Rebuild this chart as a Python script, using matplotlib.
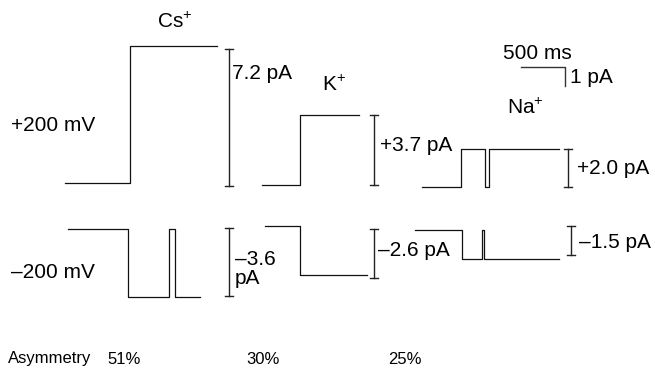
import numpy as np
import matplotlib
matplotlib.use("Agg")
import matplotlib.pyplot as plt
from matplotlib.transforms import Affine2D

plt.rcParams['font.family'] = ['Liberation Sans', 'DejaVu Sans']
plt.rcParams['mathtext.fontset'] = 'custom'
plt.rcParams['mathtext.rm'] = 'Liberation Sans'
plt.rcParams['mathtext.it'] = 'Liberation Sans:italic'

# single-channel traces: segment boundaries (ms) and current level per segment (pA)
cs_pos_t = [0, 739, 1727]
cs_pos_i = [0, 7.2]
cs_neg_t = [0, 682, 1148, 1216, 1500]
cs_neg_i = [0, -3.6, 0, -3.6]
k_pos_t = [0, 432, 1102]
k_pos_i = [0, 3.7]
k_neg_t = [0, 398, 1159]
k_neg_i = [0, -2.6]
na_pos_t = [0, 443, 716, 761, 1557]
na_pos_i = [0, 2.0, 0, 2.0]
na_neg_t = [0, 534, 761, 784, 1636]
na_neg_i = [0, -1.5, 0, -1.5]

ions = ['Cs$^{+}$', 'K$^{+}$', 'Na$^{+}$']
amp_pos = [7.2, 3.7, 2.0]
amp_neg = [3.6, 2.6, 1.5]
amp_pos_labels = ['7.2 pA', '+3.7 pA', '+2.0 pA']
amp_neg_labels = ['\u20133.6\npA', '\u20132.6 pA', '\u20131.5 pA']
asym = ['51%', '30%', '25%']

# scale of the recording in the figure
PX_PER_MS = 0.088
PX_PER_PA = 19.0

fig = plt.figure(figsize=(6.55, 3.74), dpi=100)
ax = fig.add_axes([0, 0, 1, 1])
ax.set_xlim(0, 655)
ax.set_ylim(374, 0)
ax.axis('off')


def trace(t, lev, x0, y0):
    tr = Affine2D().scale(PX_PER_MS, -PX_PER_PA).translate(x0, y0) + ax.transData
    x = np.repeat(t, 2)[1:-1]
    y = np.repeat(lev, 2)
    ax.plot(x, y, color='#111111', lw=0.9, transform=tr)


def bar(x, top, amp):
    bot = top + amp * PX_PER_PA
    ax.plot([x, x], [top, bot], color='#222222', lw=1.0)
    ax.plot([x - 4, x + 4], [top, top], color='#222222', lw=1.0)
    ax.plot([x - 4, x + 4], [bot, bot], color='#222222', lw=1.0)


trace(cs_pos_t, cs_pos_i, 65, 183)
trace(cs_neg_t, cs_neg_i, 68, 229)
trace(k_pos_t, k_pos_i, 262, 185)
trace(k_neg_t, k_neg_i, 265, 226)
trace(na_pos_t, na_pos_i, 422, 187)
trace(na_neg_t, na_neg_i, 415, 230)

bar_x = [229, 374, 568]
bar_x_neg = [229, 374, 571]
bar_top_pos = [49, 115, 149]
bar_top_neg = [228, 229, 226]
for i in range(3):
    bar(bar_x[i], bar_top_pos[i], amp_pos[i])
    bar(bar_x_neg[i], bar_top_neg[i], amp_neg[i])

fs = 15
lab_pos_xy = [(232, 73), (380, 145), (577, 168)]
lab_neg_xy = [(235, 269), (378, 250), (579, 242)]
for i in range(3):
    ax.text(*lab_pos_xy[i], amp_pos_labels[i], fontsize=fs, ha='left', va='center')
    ax.text(*lab_neg_xy[i], amp_neg_labels[i], fontsize=fs, ha='left', va='center',
            linespacing=0.95)

ion_xy = [(175, 22), (334, 85), (525, 108)]
for i in range(3):
    ax.text(*ion_xy[i], ions[i], fontsize=fs, ha='center', va='center')

ax.text(11, 125, '+200 mV', fontsize=fs, ha='left', va='center')
ax.text(11, 272, '\u2013200 mV', fontsize=fs, ha='left', va='center')

# scale bar
sx, sy = 521, 67
ax.plot([sx, sx + 500 * PX_PER_MS, sx + 500 * PX_PER_MS],
        [sy, sy, sy + 1 * PX_PER_PA], color='#333333', lw=1.0)
ax.text(503, 53, '500 ms', fontsize=fs, ha='left', va='center')
ax.text(570, 77, '1 pA', fontsize=fs, ha='left', va='center')

# asymmetry row
ax.text(8, 359, 'Asymmetry', fontsize=12, ha='left', va='center')
asym_x = [107, 246, 388]
for i in range(3):
    ax.text(asym_x[i], 359, asym[i], fontsize=12, ha='left', va='center')

fig.savefig('out.png', dpi=100)
